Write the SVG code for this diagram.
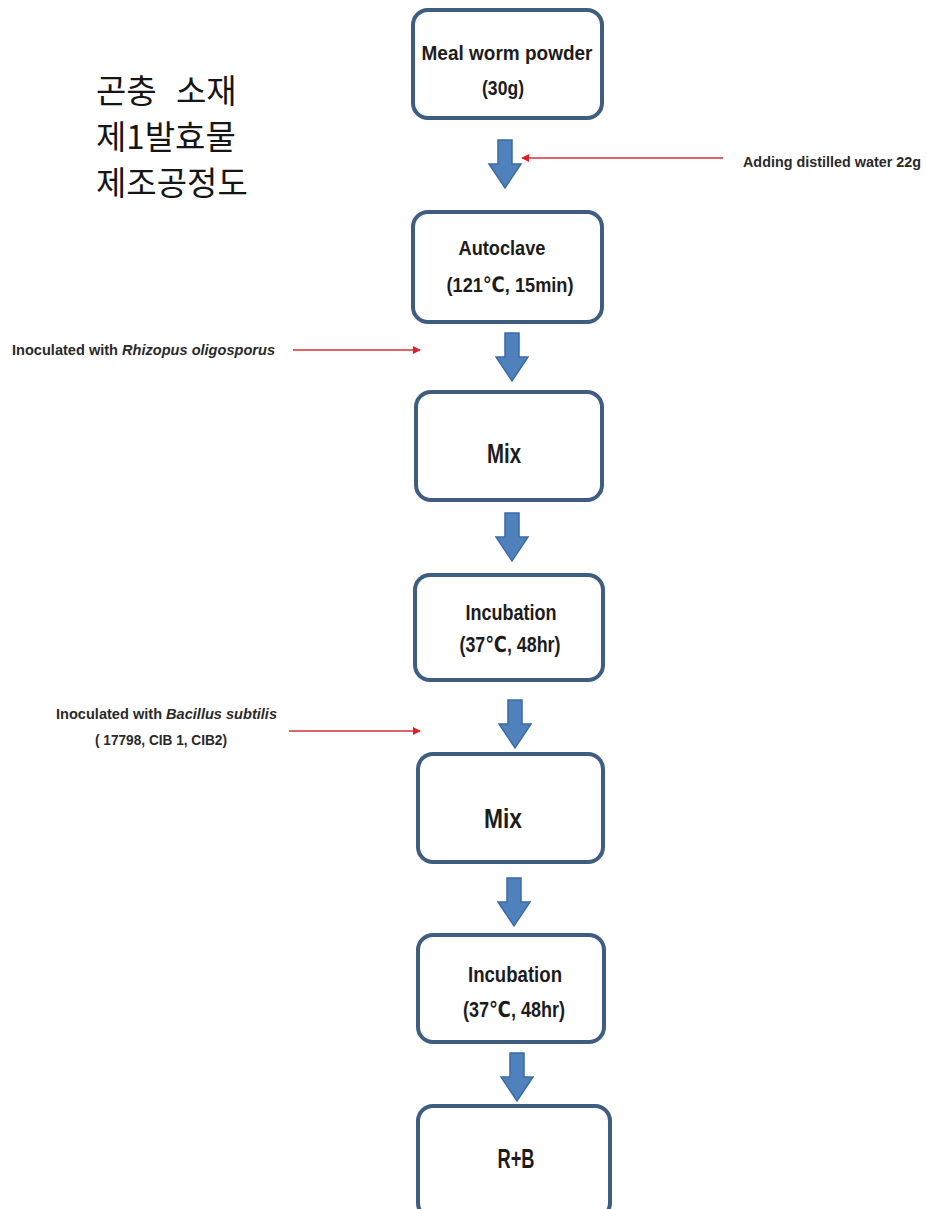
<svg xmlns="http://www.w3.org/2000/svg" xmlns:xlink="http://www.w3.org/1999/xlink" width="927" height="1209" viewBox="0 0 927 1209">
  <style>
    .box { fill: #ffffff; stroke: #3f5d80; stroke-width: 4; }
    .lbl { font-family: "Liberation Sans", "DejaVu Sans", sans-serif; font-weight: bold; fill: #1c1c1c; text-anchor: middle; }
    .side { font-family: "Liberation Sans", "DejaVu Sans", sans-serif; font-size: 15px; font-weight: bold; fill: #2a2a2a; }
    .title { font-family: "Noto Sans CJK KR", "Noto Sans", sans-serif; font-size: 33px; fill: #151515; }
    .flow { fill: #4f81bd; stroke: #3c6aa5; stroke-width: 1.5; }
    .feed { stroke: #d9303a; stroke-width: 1.6; fill: none; }
  </style>
  <defs>
    <!-- block down-arrow between process steps, origin at top-centre -->
    <polygon id="down" class="flow" points="-7,0 7,0 7,24 16,24 0,48 -16,24 -7,24"/>
    <marker id="redhead" viewBox="0 0 10 10" refX="9" refY="5" markerWidth="5" markerHeight="5" orient="auto" markerUnits="strokeWidth">
      <path d="M0,0 L10,5 L0,10 z" fill="#e01e2a"/>
    </marker>
  </defs>

  <rect width="927" height="1209" fill="#ffffff"/>

  <!-- title -->
  <g id="title">
    <text class="title" x="96" y="103">곤충<tspan x="176">소재</tspan></text>
    <text class="title" x="96" y="149">제1발효물</text>
    <text class="title" x="96" y="195">제조공정도</text>
  </g>

  <!-- process steps -->
  <g id="node-mealworm">
    <rect class="box" x="413" y="10" width="189" height="108" rx="15"/>
    <text class="lbl" x="507" y="60" font-size="21" textLength="171" lengthAdjust="spacingAndGlyphs">Meal worm powder</text>
    <text class="lbl" x="503" y="95" font-size="21" textLength="42" lengthAdjust="spacingAndGlyphs">(30g)</text>
  </g>
  <g id="node-autoclave">
    <rect class="box" x="413" y="212" width="189" height="110" rx="15"/>
    <text class="lbl" x="502" y="255" font-size="21" textLength="87" lengthAdjust="spacingAndGlyphs">Autoclave</text>
    <text class="lbl" x="510" y="292" font-size="21" textLength="127" lengthAdjust="spacingAndGlyphs">(121℃, 15min)</text>
  </g>
  <g id="node-mix1">
    <rect class="box" x="416" y="392" width="186" height="108" rx="15"/>
    <text class="lbl" x="504" y="463" font-size="28" textLength="34" lengthAdjust="spacingAndGlyphs">Mix</text>
  </g>
  <g id="node-incubation1">
    <rect class="box" x="415" y="575" width="188" height="105" rx="15"/>
    <text class="lbl" x="511" y="620" font-size="22" textLength="91" lengthAdjust="spacingAndGlyphs">Incubation</text>
    <text class="lbl" x="510" y="652" font-size="22" textLength="101" lengthAdjust="spacingAndGlyphs">(37℃, 48hr)</text>
  </g>
  <g id="node-mix2">
    <rect class="box" x="418" y="754" width="185" height="108" rx="15"/>
    <text class="lbl" x="503" y="828" font-size="28" textLength="38" lengthAdjust="spacingAndGlyphs">Mix</text>
  </g>
  <g id="node-incubation2">
    <rect class="box" x="418" y="935" width="186" height="107" rx="15"/>
    <text class="lbl" x="515" y="982" font-size="22" textLength="94" lengthAdjust="spacingAndGlyphs">Incubation</text>
    <text class="lbl" x="514" y="1017" font-size="22" textLength="102" lengthAdjust="spacingAndGlyphs">(37℃, 48hr)</text>
  </g>
  <g id="node-rb">
    <rect class="box" x="418" y="1106" width="192" height="112" rx="15"/>
    <text class="lbl" x="516" y="1168" font-size="27" textLength="37" lengthAdjust="spacingAndGlyphs">R+B</text>
  </g>

  <!-- side inputs -->
  <g id="note-water">
    <text class="side" x="743" y="167" textLength="178" lengthAdjust="spacingAndGlyphs">Adding distilled water 22g</text>
  </g>
  <g id="note-rhizopus">
    <text class="side" x="12" y="355" textLength="263" lengthAdjust="spacingAndGlyphs">Inoculated with <tspan font-style="italic">Rhizopus oligosporus</tspan></text>
  </g>
  <g id="note-bacillus">
    <text class="side" x="56" y="719" textLength="221" lengthAdjust="spacingAndGlyphs">Inoculated with <tspan font-style="italic">Bacillus subtilis</tspan></text>
    <text class="side" x="95" y="745" textLength="132" lengthAdjust="spacingAndGlyphs">( 17798, CIB 1, CIB2)</text>
  </g>

  <!-- connectors -->
  <g id="connectors">
    <use xlink:href="#down" x="505" y="140"/>
    <use xlink:href="#down" x="512" y="333"/>
    <use xlink:href="#down" x="512" y="513"/>
    <use xlink:href="#down" x="515" y="700"/>
    <use xlink:href="#down" x="514" y="878"/>
    <use xlink:href="#down" x="517" y="1053"/>
    <line class="feed" x1="723" y1="158" x2="522" y2="158" marker-end="url(#redhead)"/>
    <line class="feed" x1="293" y1="350" x2="420" y2="350" marker-end="url(#redhead)"/>
    <line class="feed" x1="289" y1="731" x2="420" y2="731" marker-end="url(#redhead)"/>
  </g>
</svg>
